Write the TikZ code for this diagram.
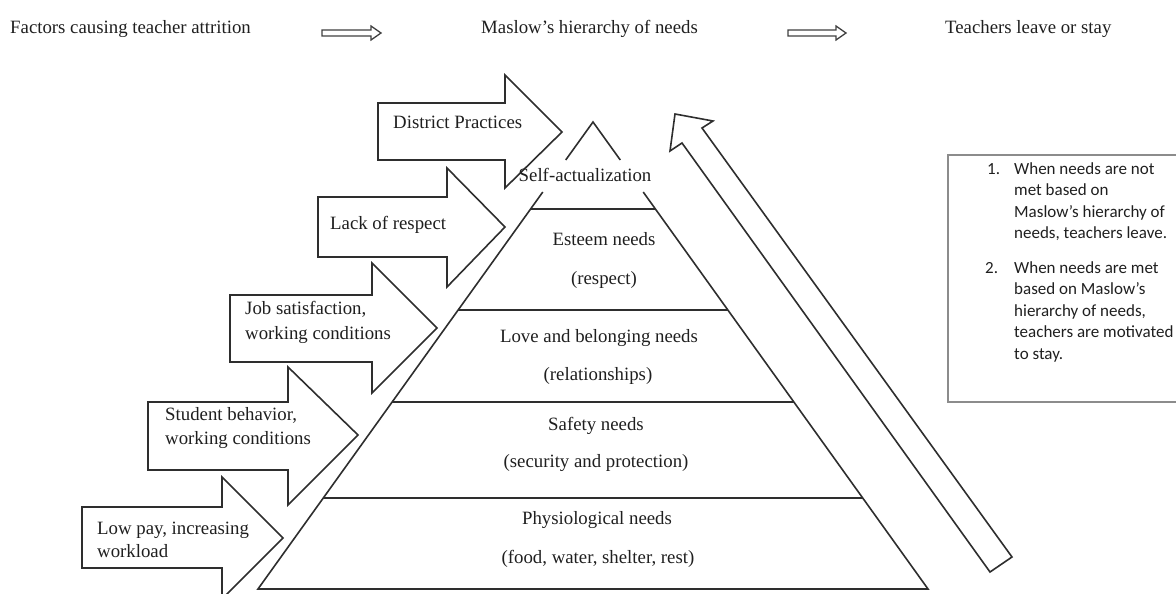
\documentclass[tikz,border=0pt]{standalone}
\usepackage{fontspec}
\setmainfont{Liberation Serif}
\newfontfamily\boxfont{Carlito}
\begin{document}
\begin{tikzpicture}[x=1pt,y=-1pt,
  ln/.style={draw=black!82, line width=1.6pt, line join=miter},
  blk/.style={ln, fill=white},
  tarr/.style={draw=black!75, line width=1.3pt, fill=white},
  lbl/.style={font=\fontsize{18.8}{22}\selectfont, text=black!88, inner sep=0pt},
  lw/.style={lbl, anchor=mid west},
  lc/.style={lbl, anchor=mid},
  bxt/.style={font=\boxfont\fontsize{17}{20}\selectfont, text=black!88, inner sep=0pt, anchor=mid west},
]
\useasboundingbox (0,0) rectangle (1176,594);

% top row
\node[lw] (fac) at (10,31) {Factors causing teacher attrition};
\node[lw] (mas) at (481,31) {Maslow’s hierarchy of needs};
\node[lw] (tea) at (945,31) {Teachers leave or stay};
\draw[tarr] (322,30) -- (371,30) -- (371,26) -- (381,33) -- (371,40) -- (371,36) -- (322,36) -- cycle;
\draw[tarr] (788,30) -- (836,30) -- (836,26) -- (846,33) -- (836,40) -- (836,36) -- (788,36) -- cycle;

% left block arrows
\draw[blk] (378,103) -- (505,103) -- (505,75) -- (562,132) -- (505,188) -- (505,160) -- (378,160) -- cycle;
\draw[blk] (318,197) -- (447,197) -- (447,168) -- (505,227) -- (447,287) -- (447,257) -- (318,257) -- cycle;
\draw[blk] (230,295) -- (372,295) -- (372,263) -- (437,328) -- (372,393) -- (372,362) -- (230,362) -- cycle;
\draw[blk] (148,402) -- (288,402) -- (288,367) -- (358,435) -- (288,505) -- (288,470) -- (148,470) -- cycle;
\draw[blk] (82,507) -- (222,507) -- (222,477) -- (283,538) -- (222,599) -- (222,568) -- (82,568) -- cycle;

\node[lw] (a1) at (393,126) {District Practices};
\node[lw] (a2) at (330,227) {Lack of respect};
\node[lw] (a3a) at (245,312) {Job satisfaction,};
\node[lw] (a3b) at (245,337) {working conditions};
\node[lw] (a4a) at (165,418) {Student behavior,};
\node[lw] (a4b) at (165,442) {working conditions};
\node[lw] (a5a) at (97,532) {Low pay, increasing};
\node[lw] (a5b) at (97,555) {workload};

% pyramid
\draw[ln] (565.7,160) -- (593,122) -- (620.3,160);
\draw[ln] (542.8,192) -- (258,589) -- (928,589) -- (643.2,192);
\draw[ln] (530.6,209) -- (655.4,209);
\draw[ln] (458.1,310) -- (727.9,310);
\draw[ln] (392.2,402) -- (793.8,402);
\draw[ln] (323.3,498) -- (862.7,498);

\node[lc] (p1) at (585,179) {Self-actualization};
\node[lc] (p2a) at (604,243) {Esteem needs};
\node[lc] (p2b) at (604,282) {(respect)};
\node[lc] (p3a) at (599,340) {Love and belonging needs};
\node[lc] (p3b) at (598,378) {(relationships)};
\node[lc] (p4a) at (596,428) {Safety needs};
\node[lc] (p4b) at (596,465) {(security and protection)};
\node[lc] (p5a) at (597,522) {Physiological needs};
\node[lc] (p5b) at (598,561) {(food, water, shelter, rest)};

% big diagonal arrow
\draw[blk] (990,572) -- (682,143) -- (670,151) -- (675,114) -- (713,121) -- (702,128) -- (1012,557) -- cycle;

% right text box
\draw[draw=black!45, line width=1.4pt] (948,155) rectangle (1185,402);
\node[bxt] (n1) at (987,172) {1.};
\node[bxt] (b11) at (1014,172) {When needs are not};
\node[bxt] (b12) at (1014,193.5) {met based on};
\node[bxt] (b13) at (1014,215) {Maslow’s hierarchy of};
\node[bxt] (b14) at (1014,236.5) {needs, teachers leave.};
\node[bxt] (n2) at (985,271) {2.};
\node[bxt] (b21) at (1014,271) {When needs are met};
\node[bxt] (b22) at (1014,292.5) {based on Maslow’s};
\node[bxt] (b23) at (1014,314) {hierarchy of needs,};
\node[bxt] (b24) at (1014,335.5) {teachers are motivated};
\node[bxt] (b25) at (1014,357) {to stay.};
\end{tikzpicture}
\end{document}
